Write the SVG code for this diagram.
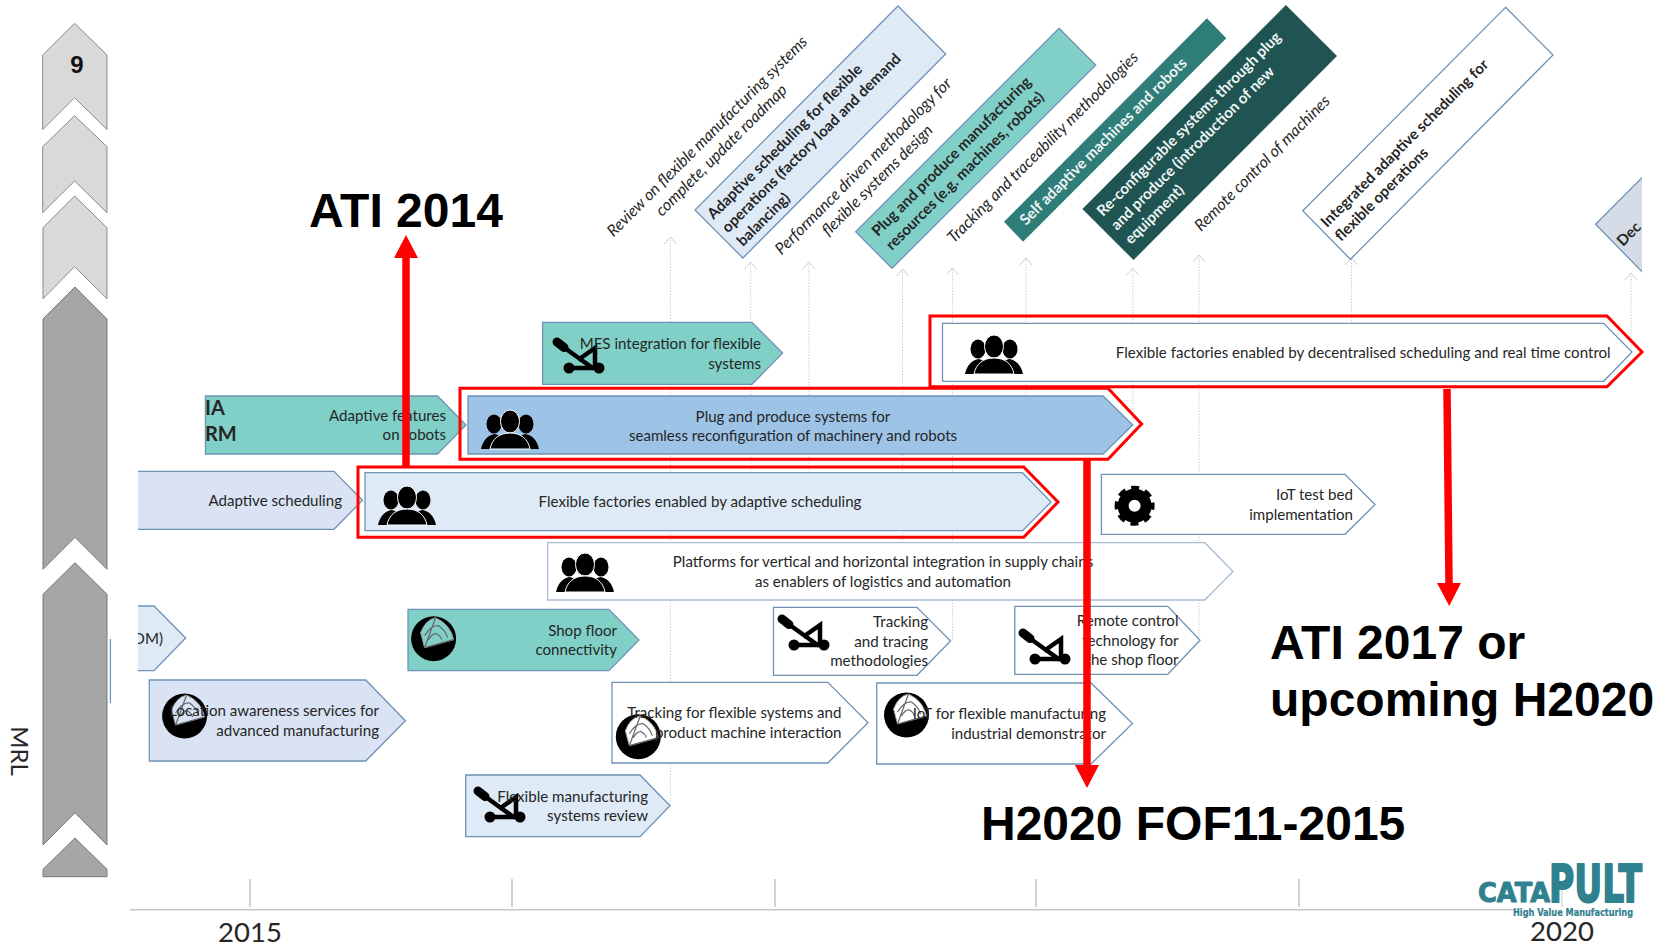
<svg xmlns="http://www.w3.org/2000/svg" width="1653" height="947" viewBox="0 0 1653 947">
<style>
text{font-family:"Lato","Liberation Sans",sans-serif;font-size:15.1px;fill:#262626}
.e{text-anchor:end}.m{text-anchor:middle}
.i{font-style:italic;font-size:16px}.b{font-weight:700}
.w{fill:#eef5f4}
.big{font-family:"Liberation Sans",Arial,sans-serif;font-weight:700;font-size:48px;fill:#000}
.box{stroke:#6f92b5;stroke-width:1.3}
.pale{fill:#deeaf6}.lav{fill:#d9e3f3}.teal{fill:#80d0c8}.wh{fill:#fff}.blue{fill:#9dc3e6}
.red{fill:none;stroke:#f00;stroke-width:3}
.dot{stroke:#cfcfcf;stroke-width:1;stroke-dasharray:1.5 1.5;fill:none;marker-end:url(#open)}
.cal{stroke:#f00;stroke-width:7.5;fill:none;marker-end:url(#redhead)}
.lt{fill:#d9d9d9;stroke:#8a8a8a;stroke-width:1}.dk{fill:#a6a6a6;stroke:#777;stroke-width:1}
.ax{stroke:#c8c8c8;stroke-width:1.6;fill:none}
.yr{font-size:27.5px}
.logo{font-family:"DejaVu Sans",sans-serif;font-weight:700;fill:#2f818f;stroke:#2f818f;stroke-linejoin:round}
</style>
<defs>
<marker id="open" markerUnits="userSpaceOnUse" markerWidth="9" markerHeight="14" refX="8" refY="7" orient="auto" viewBox="0 0 9 14"><path d="M1 1L8 7L1 13" fill="none" stroke="#cfcfcf" stroke-width="1"/></marker>
<marker id="redhead" markerUnits="userSpaceOnUse" markerWidth="24" markerHeight="24" refX="0" refY="12" orient="auto" viewBox="0 0 24 24"><path d="M0 0L23 12L0 24Z" fill="#f00"/></marker>
<symbol id="people" overflow="visible" viewBox="0 0 58 40" width="58" height="40">
<ellipse cx="13" cy="14" rx="7.5" ry="9.5"/><ellipse cx="45" cy="14" rx="7.5" ry="9.5"/>
<path d="M0 39C2 30 7 25 14 24C17 25 19 26 20 27L10 39Z"/><path d="M58 39C56 30 51 25 44 24C41 25 39 26 38 27L48 39Z"/>
<ellipse cx="29" cy="11.500" rx="9.500" ry="11.500" stroke="#fff" stroke-width="1"/>
<path d="M9 39C11 29 18 23 29 23C40 23 47 29 49 39Z" stroke="#fff" stroke-width="1"/>
</symbol>
<symbol id="cat" overflow="visible" viewBox="0 0 50 35" width="50" height="35">
<path d="M1 1L8 6.500" stroke="#000" stroke-width="9" stroke-linecap="round"/>
<path d="M6 5L38 28M13 27H43M22 19L39 7V27" stroke="#000" stroke-width="4.500" fill="none"/>
<circle cx="13" cy="27" r="5.500"/><circle cx="43" cy="27" r="5.500"/>
</symbol>
<symbol id="globe" overflow="visible" viewBox="-23 -23 46 46" width="46" height="46">
<circle r="22.500"/>
<path d="M-9 9L-13 -6Q-8 -19 2 -21Q17 -14 20 1Z" fill="currentColor" stroke="#999" stroke-width="1"/>
<path d="M-9 9L2 -21M-9 9L20 1M-9 -3Q-2 -14 5 -13Q12 -8 14 -1M-5 1Q-1 -6 3 -5Q7 -3 8 1" fill="none" stroke="#666" stroke-width="1.200"/>
</symbol>
<clipPath id="leftclip"><rect x="138" y="590" width="60" height="100"/></clipPath>
<clipPath id="decclip"><rect x="1590" y="170" width="52" height="110"/></clipPath>
</defs>
<rect width="1653" height="947" fill="#fff"/>

<g id="mrl-scale">
<path class="lt" d="M42.700 55L74.600 23.300L107 55V129.500L74.600 97.700L42.700 129.500Z"/>
<path class="lt" d="M42.700 146.700L74.600 115.700L107 146.700V212.700L74.600 181L42.700 212.700Z"/>
<path class="lt" d="M43 227.700L74.600 196L107 227.700V298.700L74.600 266.700L43 298.700Z"/>
<path class="dk" d="M43 319L75 287L107 319V569.300L75 537.300L43 569.300Z"/>
<path class="dk" d="M43 594.300L75 562.700L107 594.300V845L75 812.700L43 845Z"/>
<path class="dk" d="M43 869.300L75 838L107 869.300V876.700H43Z" stroke="none"/>
<text x="77" y="73" class="m" style="font-family:'Liberation Sans',sans-serif;font-weight:700;font-size:24px;fill:#111">9</text>
<text transform="translate(11 751) rotate(90)" class="m" style="font-size:24px">MRL</text>
<path d="M110.400 639V703" stroke="#6f92b5" stroke-width="1.300"/>
</g>

<g id="axis">
<path class="ax" d="M130 909.700H1517M250 879V907M512 879V907M775 879V907M1036 879V907M1299 879V907"/>
<path d="M1562 888V907" stroke="#c8c8c8" stroke-width="1"/>
<text x="250" y="941.700" class="m yr">2015</text>
<text x="1562" y="941" class="m yr">2020</text>
</g>

<g id="connectors">
<path class="dot" d="M670.400 805V237"/><path class="dot" d="M750.700 530V262"/><path class="dot" d="M809 530V262"/>
<path class="dot" d="M902.500 600V269"/><path class="dot" d="M952.500 640V268"/><path class="dot" d="M1026 400V258"/>
<path class="dot" d="M1132.800 425V268"/><path class="dot" d="M1199 640V255"/><path class="dot" d="M1351.500 330V258"/><path class="dot" d="M1631 352V273"/>
</g>

<g id="milestones">
<g id="m-review"><text class="i m" transform="translate(711 140) rotate(-45)">Review on flexible manufacturing systems</text><text class="i m" transform="translate(725 154) rotate(-45)">complete, update roadmap</text></g>
<g id="m-adaptive"><path class="box pale" d="M898 6L945.700 54L742.900 258L695 210Z"/>
<text class="b" transform="translate(713.600 220) rotate(-45)">Adaptive scheduling for flexible</text><text class="b" transform="translate(728 233.500) rotate(-45)">operations (factory load and demand</text><text class="b" transform="translate(743 247) rotate(-45)">balancing)</text></g>
<g id="m-performance"><text class="i m" transform="translate(867 170) rotate(-45)">Performance driven methodology for</text><text class="i m" transform="translate(881 184) rotate(-45)">flexible systems design</text></g>
<g id="m-plug"><path class="box teal" d="M1059 28.300L1095.700 65L892 268.300L855.700 231.700Z"/>
<text class="b" transform="translate(878 237) rotate(-45)">Plug and produce manufacturing</text><text class="b" transform="translate(892 251) rotate(-45)">resources (e.g. machines, robots)</text></g>
<g id="m-tracking"><text class="i m" transform="translate(1046.500 151) rotate(-45)">Tracking and traceability methodologies</text></g>
<g id="m-self"><path d="M1004 221.700L1023 241.700L1226.300 38.300L1206.900 18.300Z" fill="#2e7d78"/>
<text class="w b m" transform="translate(1107 145) rotate(-45)">Self adaptive machines and robots</text></g>
<g id="m-reconfig"><path d="M1285.900 5L1337 56L1133.500 260L1082.400 209Z" fill="#1f5452"/>
<text class="w b" transform="translate(1103 217) rotate(-45)">Re-configurable systems through plug</text><text class="w b" transform="translate(1117 231) rotate(-45)">and produce (introduction of new</text><text class="w b" transform="translate(1131 245) rotate(-45)">equipment)</text></g>
<g id="m-remote"><text class="i m" transform="translate(1266 167) rotate(-45)">Remote control of machines</text></g>
<g id="m-integrated"><path class="box wh" d="M1505.600 7.300L1553 55L1350.400 259.300L1302.800 210.700Z"/>
<text class="b" transform="translate(1327 228) rotate(-45)">Integrated adaptive scheduling for</text><text class="b" transform="translate(1341 242) rotate(-45)">flexible operations</text></g>
<g id="m-dec" clip-path="url(#decclip)"><path class="box" fill="#d5dce8" d="M1595.600 224.300L1642 177.700L1690 224L1642 271.700Z"/>
<text class="b" transform="translate(1623 247) rotate(-45)">Dec</text></g>
</g>

<g id="n-adaptive-features"><path class="box teal" d="M205.400 396H437.500L466 425L437.500 454H205.400Z"/>
<text x="205" y="415" class="b" style="font-size:20px">IA</text><text x="205" y="441" class="b" style="font-size:20px">RM</text>
<text x="446" y="421" class="e">Adaptive features</text><text x="446" y="440" class="e">on robots</text></g>

<g id="n-adaptive-scheduling"><path class="box lav" d="M138 471.300H334L362.500 500.300L334 529.300H138"/><text x="342" y="506" class="e">Adaptive scheduling</text></g>

<g id="n-flexible-adaptive"><path class="box pale" d="M365 472.700H1022.500L1051 502L1022.500 530.700H365Z"/><path class="red" d="M358 467H1023.700L1058 502L1023.700 537.300H358Z"/>
<use href="#people" x="378" y="486"/><text x="700" y="507" class="m">Flexible factories enabled by adaptive scheduling</text></g>

<g id="n-plug-produce"><path class="box blue" d="M468 396H1103L1132.800 425L1103 454H468Z"/><path class="red" d="M460 388.300H1108L1141.600 424L1108 459.300H460Z"/>
<use href="#people" x="481" y="410"/><text x="793" y="421.700" class="m">Plug and produce systems for</text><text x="793" y="441.300" class="m">seamless reconfiguration of machinery and robots</text></g>

<g id="n-mes"><path class="box teal" d="M542.600 322.300H752L782.600 353L752 384.300H542.600Z"/><use href="#cat" x="556" y="341"/><text x="761" y="349" class="e">MES integration for flexible</text><text x="761" y="368.700" class="e">systems</text></g>

<g id="n-decentralised"><path class="box wh" d="M942.500 323.300H1603.700L1632 352L1603.700 381.300H942.500Z"/><path class="red" d="M930 316H1607L1642 352L1607 386.700H930Z"/>
<use href="#people" x="965" y="335"/><text x="1610.700" y="357.700" class="e">Flexible factories enabled by decentralised scheduling and real time control</text></g>

<g id="n-iot-test"><path class="box wh" d="M1101.400 474.300H1345L1375 504.600L1345 534.300H1101.400Z"/><text x="1353" y="500" class="e">IoT test bed</text><text x="1353" y="519.700" class="e">implementation</text>
<circle cx="1134.600" cy="505.700" r="11.500" fill="none" stroke="#000" stroke-width="11"/><circle cx="1134.600" cy="505.700" r="18" fill="none" stroke="#000" stroke-width="4" stroke-dasharray="8 6.137" stroke-dashoffset="4"/></g>

<g id="n-platforms"><path class="box wh" style="stroke:#a9bdd4" d="M547.600 542.700H1204.800L1233 571.500L1204.800 600H547.600Z"/>
<use href="#people" x="556" y="553"/><text x="883" y="567.300" class="m">Platforms for vertical and horizontal integration in supply chains</text><text x="883" y="586.700" class="m">as enablers of logistics and automation</text></g>

<g id="n-om"><path class="box pale" d="M138 606H154L185.700 638L154 670.700H138"/><text x="163" y="644" class="e" clip-path="url(#leftclip)">OM)</text></g>

<g id="n-shop-floor"><path class="box teal" d="M408 609.300H608.900L639 640L608.900 670.700H408Z"/><use href="#globe" x="410.600" y="615.700" color="#80d0c8"/><text x="617" y="635.700" class="e">Shop floor</text><text x="617" y="655.300" class="e">connectivity</text></g>

<g id="n-location"><path class="box lav" d="M149.300 680H365.700L405.400 720.700L365.700 761H149.300Z"/><use href="#globe" x="161.600" y="693" color="#d9e3f3"/><text x="379" y="716" class="e">Location awareness services for</text><text x="379" y="736" class="e">advanced manufacturing</text></g>

<g id="n-flexible-review"><path class="box pale" d="M465.700 775H640L670 805.700L640 836.700H465.700Z"/><use href="#cat" x="477" y="790"/><text x="648" y="801.700" class="e">Flexible manufacturing</text><text x="648" y="821" class="e">systems review</text></g>

<g id="n-tracking-tracing"><path class="box wh" d="M773.500 607.300H917L950.500 641L917 675.300H773.500Z"/><use href="#cat" x="781" y="618"/><text x="928" y="627" class="e">Tracking</text><text x="928" y="646.700" class="e">and tracing</text><text x="928" y="666" class="e">methodologies</text></g>

<g id="n-remote"><path class="box wh" d="M1014.800 606.300H1167.800L1200 640.300L1167.800 674.300H1014.800Z"/><use href="#cat" x="1022" y="632"/><text x="1178.500" y="626" class="e">Remote control</text><text x="1178.500" y="645.700" class="e">technology for</text><text x="1178.500" y="665" class="e">the shop floor</text></g>

<g id="n-tracking-flexible"><path class="box wh" d="M612 682.300H827.800L868 722.700L827.800 763H612Z"/><use href="#globe" x="615.300" y="713.700" color="#fff"/><text x="841.500" y="718.300" class="e">Tracking for flexible systems and</text><text x="841.500" y="737.700" class="e">product machine interaction</text></g>

<g id="n-iot-flexible"><path class="box wh" d="M876.700 683H1091L1132.500 723.500L1091 764H876.700Z"/><use href="#globe" x="883.500" y="692" color="#fff"/><text x="1106" y="719.300" class="e">IoT for flexible manufacturing</text><text x="1106" y="739" class="e">industrial demonstrator</text></g>

<g id="connectors-callouts">
<path class="cal" d="M406 467V258"/>
<path class="cal" d="M1087 459V765"/>
<path class="cal" d="M1447 389L1449 583"/>
</g>

<g id="callout-labels">
<text x="309" y="227" class="big">ATI 2014</text>
<text x="981" y="840" class="big">H2020 FOF11-2015</text>
<text x="1270" y="659" class="big">ATI 2017 or</text>
<text x="1270" y="716" class="big">upcoming H2020</text>
</g>

<g id="logo">
<text x="1478" y="902" class="logo" style="font-size:26px;stroke-width:1" textLength="72" lengthAdjust="spacingAndGlyphs">CATA</text>
<text x="1549" y="902" class="logo" style="font-size:52px;stroke-width:2" textLength="93" lengthAdjust="spacingAndGlyphs">PULT</text>
<text x="1513" y="916" class="logo" style="font-size:10px;stroke-width:.2" textLength="120" lengthAdjust="spacingAndGlyphs">High Value Manufacturing</text>
</g>
</svg>
